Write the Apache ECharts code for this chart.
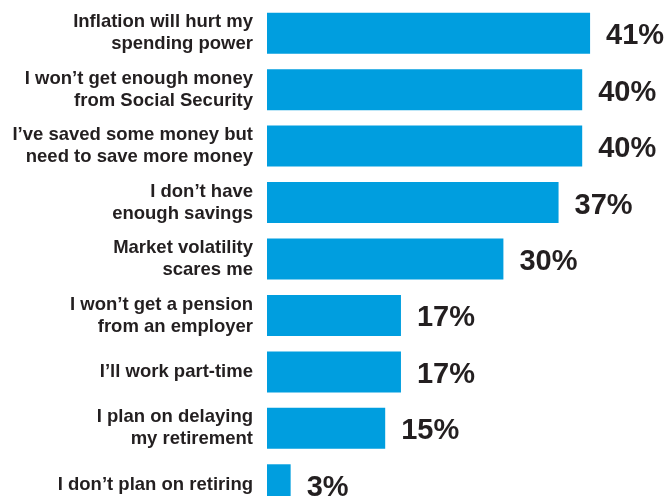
<!DOCTYPE html>
<html>
<head>
<meta charset="utf-8">
<script src="https://cdn.jsdelivr.net/npm/echarts@6/dist/echarts.min.js"></script>
<style>
  html, body { margin: 0; padding: 0; background: #ffffff; }
  #chart { width: 671px; height: 496px; }
</style>
</head>
<body>
<div id="chart"></div>
<script>
// Retirement concerns, share of respondents (%)
const categories = [
  "Inflation will hurt my\nspending power",
  "I won\u2019t get enough money\nfrom Social Security",
  "I\u2019ve saved some money but\nneed to save more money",
  "I don\u2019t have\nenough savings",
  "Market volatility\nscares me",
  "I won\u2019t get a pension\nfrom an employer",
  "I\u2019ll work part-time",
  "I plan on delaying\nmy retirement",
  "I don\u2019t plan on retiring"
];
const shares = [41, 40, 40, 37, 30, 17, 17, 15, 3];

const barColor = "#009EDF";
const textColor = "#231f20";

const chart = echarts.init(document.getElementById("chart"), null, { renderer: "canvas" });

chart.setOption({
  animation: false,
  backgroundColor: "#ffffff",
  grid: {
    left: 267, top: 5, width: 394, height: 508,
    containLabel: false,
    outerBoundsMode: "none"
  },
  xAxis: {
    type: "value",
    min: 0,
    max: 50,
    show: false
  },
  yAxis: {
    type: "category",
    data: categories,
    inverse: true,
    axisLine: { show: false },
    axisTick: { show: false },
    splitLine: { show: false },
    axisLabel: {
      margin: 14,
      align: "right",
      color: textColor,
      fontFamily: "Liberation Sans, Arial, sans-serif",
      fontWeight: "bold",
      fontSize: 18.5,
      lineHeight: 22
    }
  },
  series: [{
    type: "bar",
    data: shares,
    barWidth: 41,
    itemStyle: { color: barColor },
    label: {
      show: true,
      position: "right",
      distance: 16,
      offset: [0, 3],
      formatter: "{c}%",
      color: textColor,
      fontFamily: "Liberation Sans, Arial, sans-serif",
      fontWeight: "bold",
      fontSize: 29
    }
  }]
});
</script>
</body>
</html>
